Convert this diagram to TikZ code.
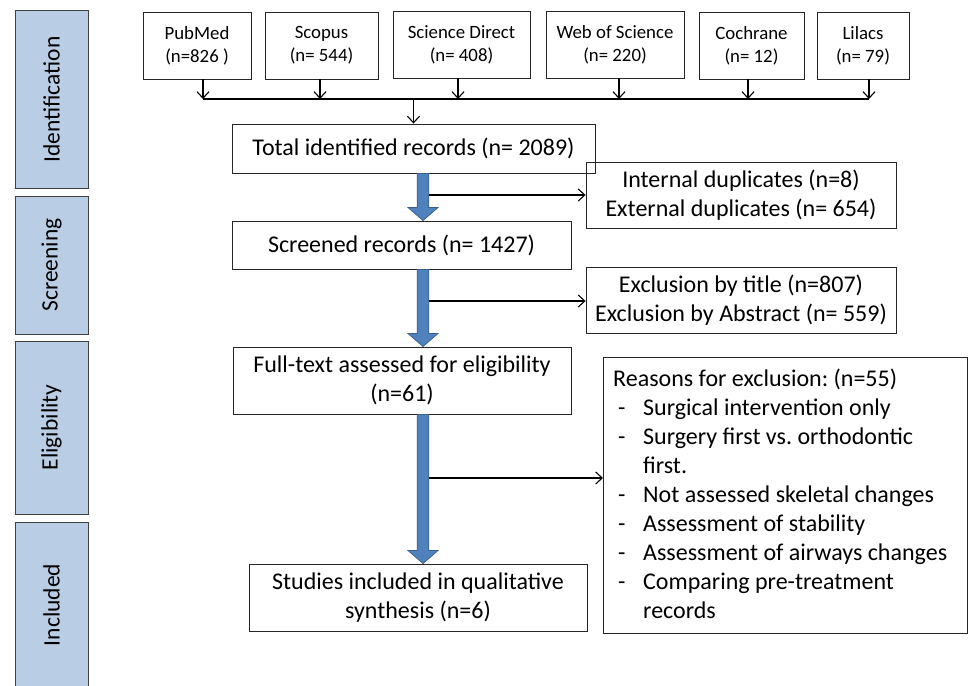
\documentclass[tikz,border=0pt]{standalone}
\usepackage{fontspec}
\setmainfont{Carlito}
\usetikzlibrary{arrows.meta,calc}
\definecolor{sidefill}{HTML}{B9CDE5}
\definecolor{fatfill}{HTML}{4F81BD}
\definecolor{fatline}{HTML}{3A5F8A}
\frenchspacing
\tikzset{
  src/.style={draw=black!85, line width=0.9pt, minimum height=67pt, inner sep=2pt, align=center, font=\fontsize{18.8}{23}\selectfont},
  box/.style={draw=black!85, line width=0.9pt, inner sep=2pt, align=center, font=\fontsize{24}{29}\selectfont},
  side/.style={draw=black!75, line width=1pt, fill=sidefill, minimum width=73pt},
  sidetext/.style={rotate=90, font=\fontsize{23.5}{27}\selectfont},
  conn/.style={line width=1.1pt, -{Straight Barb[length=6.5pt,width=12pt]}},
  plain/.style={line width=1.1pt},
  fat/.style={fill=fatfill, draw=fatline, line width=0.7pt},
}
\newcommand\fatarrow[3]{%
  \draw[fat] let \p1=(#1.south), \p2=(#2.north) in
    ({#3pt-5.8pt},\y1) -- ({#3pt+5.8pt},\y1) -- ({#3pt+5.8pt},{\y2+13pt}) --
    ({#3pt+15pt},{\y2+13pt}) -- ({#3pt},\y2) -- ({#3pt-15pt},{\y2+13pt}) --
    ({#3pt-5.8pt},{\y2+13pt}) -- cycle;}
\begin{document}
\begin{tikzpicture}[x=1pt,y=-1pt]
\useasboundingbox (0,0) rectangle (971,685);
\fill[white] (0,0) rectangle (971,685);
% side bars
\node[side, minimum height=177pt] (sid) at (51.5,99.5) {};
\node[sidetext] (tid) at (sid.center) {Identification};
\node[side, minimum height=138pt] (sscr) at (51.5,265) {};
\node[sidetext] (tscr) at (sscr.center) {Screening};
\node[side, minimum height=173pt] (seli) at (51.5,427.5) {};
\node[sidetext] (teli) at (seli.center) {Eligibility};
\fill[sidefill] (15,522) rectangle (88,686);
\draw[black!75, line width=1pt] (15,686) -- (15,522) -- (88,522) -- (88,686);
\node[sidetext] (tinc) at (51.5,605) {Included};
% sources
\node[src, minimum width=108pt] (pub) at (197,45.5) {PubMed\\(n=826 )};
\node[src, minimum width=113pt] (sco) at (321.5,45.5) {Scopus\\(n= 544)};
\node[src, minimum width=137pt] (sd) at (461.5,44.5) {Science Direct\\(n= 408)};
\node[src, minimum width=138pt] (wos) at (615,44.5) {Web of Science\\(n= 220)};
\node[src, minimum width=105pt] (coc) at (751.5,45.5) {Cochrane\\(n= 12)};
\node[src, minimum width=92pt] (lil) at (863,45.5) {Lilacs\\(n= 79)};
% main boxes
\node[box, minimum width=363pt, minimum height=49pt] (tot) at (413.5,148.5) {Total identified records (n= 2089)};
\node[box, minimum width=339pt, minimum height=48pt] (scr) at (401.5,245) {Screened records (n= 1427)};
\node[box, minimum width=338pt, minimum height=67pt] (full) at (402,380.5) {Full-text assessed for eligibility\\(n=61)};
\node[box, minimum width=338pt, minimum height=67pt] (stu) at (418,597.5) {Studies included in qualitative\\synthesis (n=6)};
\node[box, minimum width=310pt, minimum height=66pt] (dup) at (741,195) {Internal duplicates (n=8)\\External duplicates (n= 654)};
\node[box, minimum width=310pt, minimum height=66pt] (exc) at (741,300) {Exclusion by title (n=807)\\Exclusion by Abstract (n= 559)};
\node[box, minimum width=364pt, minimum height=276pt, anchor=north west, inner sep=0pt] (rea) at (603,357) {};
\node[font=\fontsize{24}{29}\selectfont, align=left, anchor=north west, inner sep=0pt] (reat) at ($(rea.north west)+(10,12)$) {%
Reasons for exclusion: (n=55)\\
\hspace*{5pt}\makebox[25pt][l]{-}Surgical intervention only\\
\hspace*{5pt}\makebox[25pt][l]{-}Surgery first vs. orthodontic\\
\hspace*{30pt}first.\\
\hspace*{5pt}\makebox[25pt][l]{-}Not assessed skeletal changes\\
\hspace*{5pt}\makebox[25pt][l]{-}Assessment of stability\\
\hspace*{5pt}\makebox[25pt][l]{-}Assessment of airways changes\\
\hspace*{5pt}\makebox[25pt][l]{-}Comparing pre-treatment\\
\hspace*{30pt}records};
% bus
\coordinate (bus) at (0,99);
\coordinate (p1) at ($(pub.south)+(6,0)$);
\coordinate (p2) at ($(sco.south)+(-1.5,0)$);
\coordinate (p3) at ($(sd.south)+(-3.5,0)$);
\coordinate (p4) at ($(wos.south)+(4,0)$);
\coordinate (p5) at ($(coc.south)+(-3.5,0)$);
\coordinate (p6) at ($(lil.south)+(6,0)$);
\foreach \i in {1,...,6}{\draw[conn] (p\i) -- (p\i |- bus);}
\draw[plain] (p1 |- bus) -- (p6 |- bus);
\coordinate (busm) at (tot.north |- bus);
\draw[conn] (busm) -- (tot.north);
% fat arrows
\fatarrow{tot}{scr}{423}
\fatarrow{scr}{full}{423}
\fatarrow{full}{stu}{423}
% side arrows
\coordinate (s1) at (429,195);
\coordinate (s2) at (429,301);
\coordinate (s3) at (429,478);
\draw[conn] (s1) -- (s1 -| dup.west);
\draw[conn] (s2) -- (s2 -| exc.west);
\draw[conn] (s3) -- (s3 -| rea.west);
\end{tikzpicture}
\end{document}
